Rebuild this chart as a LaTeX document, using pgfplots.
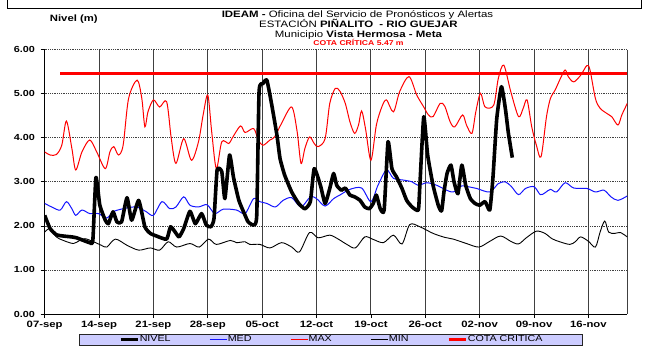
\documentclass[border=0pt]{standalone}
\usepackage{pgfplots}
\pgfplotsset{compat=1.18}
\usepackage{fontspec}
\setmainfont{Liberation Sans}[FakeStretch=1.23]
\definecolor{legfill}{RGB}{204,204,255}
\definecolor{medblue}{RGB}{20,20,255}
\begin{document}
\begin{tikzpicture}[x=1bp,y=1bp]
\useasboundingbox (0,0) rectangle (647,348);
\draw[black, line width=0.8bp] (7.5,348) -- (7.5,339.7) -- (641,339.7) -- (641,348);
\node[anchor=base, inner sep=0] at (357.5,330.4) {\fontsize{9.3bp}{11bp}\selectfont\textbf{IDEAM -} Oficina del Servicio de Pronósticos y Alertas};
\node[anchor=base, inner sep=0] at (358.4,320.6) {\fontsize{9.3bp}{11bp}\selectfont ESTACIÓN \textbf{PIÑALITO\hspace{3bp} - RIO GUEJAR}};
\node[anchor=base, inner sep=0] at (358.5,310.7) {\fontsize{9.3bp}{11bp}\selectfont Municipio \textbf{Vista Hermosa - Meta}};
\node[anchor=base, inner sep=0, red] at (358.5,302.6) {\fontsize{7bp}{8bp}\selectfont\bfseries COTA CRÍTICA 5.47 m};
\node[anchor=base, inner sep=0] at (73.8,327) {\fontsize{9.2bp}{11bp}\selectfont\bfseries Nivel (m)};
\begin{axis}[
  at={(44.67bp,34bp)}, anchor=south west, scale only axis,
  width=582.6bp, height=264.3bp,
  xmin=0, xmax=75, ymin=0, ymax=6,
  axis x line*=bottom, axis y line*=left,
  axis line style={black, line width=0.9bp, -},
  xtick={0,7,...,70},
  xticklabels={07-sep,14-sep,21-sep,28-sep,05-oct,12-oct,19-oct,26-oct,02-nov,09-nov,16-nov},
  ytick={0,1,...,6},
  /pgf/number format/assume math mode=true,
  y tick label style={/pgf/number format/fixed, /pgf/number format/fixed zerofill, /pgf/number format/precision=2},
  tick align=outside, major tick length=4bp,
  tick style={black, line width=0.8bp},
  xticklabel style={font=\bfseries\fontsize{9.2bp}{10bp}\selectfont, inner sep=1bp, yshift=-2bp},
  yticklabel style={font=\bfseries\fontsize{8.8bp}{10bp}\selectfont, inner sep=1bp, xshift=-4.5bp},
  xmajorgrids, ymajorgrids,
  x grid style={black!75, line width=1bp},
  y grid style={black!75, dash pattern=on 1bp off 0.8bp, line width=0.8bp},
  extra x ticks={75}, extra x tick labels={},
  extra x tick style={grid style={black!50, line width=1bp, solid}, major tick length=0pt},
  legend style={at={(0.4915,-0.0965)}, anchor=center, draw=black!85, fill=legfill,
    line width=0.8bp, font=\fontsize{8.7bp}{9bp}\selectfont,
    inner xsep=39.5bp, inner ysep=1.2bp,
    nodes={inner sep=0.6bp},
    /tikz/every even column/.append style={column sep=38bp}},
  legend columns=5,
  legend image code/.code={\draw[#1] (0bp,0bp) -- (17bp,0bp);},
]
\addplot[red, line width=1bp, smooth, tension=0.5, forget plot] coordinates {
(0,3.68)(0.7,3.61)(1.5,3.62)(2.2,3.83)(2.8,4.38)(3.5,3.76)(4.0,3.27)(4.8,3.68)(5.8,3.95)(6.7,3.68)(7.8,3.30)(8.4,3.68)(8.9,3.80)(9.5,3.61)(10.1,3.83)(10.8,4.89)(11.9,5.31)(12.5,4.9)(12.9,4.25)(13.3,4.59)(14.0,4.86)(14.8,4.70)(15.7,4.82)(16.3,3.98)(16.9,3.42)(17.9,3.98)(18.9,3.49)(19.8,3.91)(20.4,4.52)(21.0,4.97)(21.5,4.14)(22.1,3.30)(22.8,3.91)(23.7,3.87)(24.1,3.98)(25.2,4.27)(25.8,4.12)(26.9,4.21)(27.5,3.95)(28.1,3.83)(29.0,3.95)(29.6,4.02)(30.5,4.33)(31.8,4.70)(32.5,4.14)(33.0,3.42)(33.5,3.76)(34.1,4.02)(34.7,3.87)(35.2,3.80)(36.1,3.98)(36.7,4.78)(37.4,5.12)(38.0,5.06)(38.7,4.78)(39.3,4.36)(39.9,4.10)(40.4,4.29)(40.8,4.61)(41.3,4.21)(42.0,3.49)(42.7,4.29)(43.4,4.70)(44.0,4.86)(44.9,4.59)(45.7,5.05)(46.9,5.39)(47.9,4.97)(48.8,4.70)(49.4,4.52)(50.0,4.48)(50.9,4.78)(51.5,4.72)(52.2,4.36)(52.8,4.25)(53.8,4.52)(54.3,4.29)(55.0,4.10)(55.5,4.59)(56.1,5.01)(56.7,4.70)(57.8,4.74)(58.4,5.35)(59.1,5.65)(60.0,5.05)(61.0,4.48)(61.6,4.67)(62.1,4.86)(62.7,4.25)(63.3,3.83)(63.9,3.57)(64.6,4.48)(65.1,4.89)(65.7,5.08)(66.4,5.35)(67.0,5.54)(67.4,5.39)(68.1,5.27)(69.0,5.42)(69.8,5.64)(70.2,5.54)(70.9,4.89)(71.5,4.67)(72.4,4.55)(73.0,4.48)(73.8,4.29)(74.3,4.52)(75.0,4.78)
};
\addplot[medblue, line width=1bp, smooth, tension=0.5, forget plot] coordinates {
(0,2.51)(0.9,2.43)(2.0,2.36)(2.8,2.55)(3.5,2.39)(4.0,2.24)(4.8,2.36)(5.8,2.28)(6.9,2.28)(8.0,2.18)(8.8,2.32)(10.1,2.39)(11.8,2.43)(13.1,2.32)(14.0,2.24)(15.1,2.55)(16.1,2.39)(16.9,2.43)(17.9,2.66)(18.7,2.47)(19.8,2.43)(20.9,2.48)(21.9,2.28)(23.0,2.38)(24.7,2.36)(25.8,2.28)(26.9,2.62)(27.7,2.55)(28.6,2.51)(29.7,2.43)(30.7,2.58)(31.8,2.64)(33.0,2.43)(34.2,2.66)(35.0,2.62)(36.1,2.45)(37.2,2.62)(38.0,2.70)(39.3,2.83)(40.8,2.86)(42.0,2.55)(42.9,2.92)(44.0,3.27)(44.9,3.08)(46.2,3.04)(47.3,3.00)(48.1,2.92)(49.2,2.98)(50.5,2.92)(51.5,2.83)(52.6,2.77)(53.7,2.91)(54.5,2.89)(55.6,2.85)(57.3,2.77)(58.4,2.96)(59.3,3.00)(60.1,2.89)(61.0,2.71)(61.9,2.85)(63.0,2.89)(63.8,2.71)(64.4,2.75)(65.1,2.83)(65.9,2.77)(67.0,2.98)(68.1,2.86)(69.8,2.85)(70.9,2.77)(72.0,2.81)(72.9,2.66)(73.8,2.58)(75.0,2.68)
};
\addplot[black, line width=0.9bp, smooth, tension=0.5, forget plot] coordinates {
(0,1.86)(0.7,1.94)(1.5,1.75)(2.4,1.67)(3.7,1.60)(4.5,1.67)(5.2,1.71)(6.3,1.64)(7.3,1.56)(8.0,1.52)(9.1,1.70)(10.6,1.56)(12.1,1.45)(13.6,1.50)(14.8,1.45)(15.9,1.64)(17.0,1.52)(18.7,1.60)(19.9,1.52)(21.1,1.70)(22.1,1.58)(23.9,1.67)(24.7,1.62)(25.8,1.64)(26.4,1.58)(27.7,1.58)(29.0,1.50)(30.5,1.62)(31.8,1.52)(32.8,1.41)(34.1,1.85)(35.2,1.73)(36.7,1.79)(37.8,1.70)(38.9,1.58)(40.0,1.50)(41.2,1.75)(42.2,1.70)(43.6,1.62)(44.9,1.79)(46.0,1.59)(47.0,2.03)(48.3,1.98)(50.0,1.83)(51.5,1.74)(52.6,1.70)(54.3,1.60)(55.9,1.52)(57.3,1.65)(58.7,1.77)(60.0,1.65)(61.0,1.59)(62.0,1.73)(63.3,1.88)(64.4,1.83)(65.3,1.71)(66.3,1.64)(67.6,1.58)(68.3,1.64)(69.0,1.75)(70.0,1.65)(70.9,1.52)(71.5,1.86)(72.1,2.11)(72.6,1.86)(73.4,1.83)(74.1,1.85)(75.0,1.75)
};
\addplot[red, line width=3bp, forget plot] coordinates {(2,5.47)(75,5.47)};
\addplot[black, line width=3.6bp, smooth, tension=0.3, line join=round, forget plot] coordinates {
(0,2.24)(0.7,1.94)(1.5,1.80)(2.4,1.77)(3.5,1.75)(4.1,1.73)(5,1.67)(5.8,1.62)(6.2,1.67)(6.6,3.10)(7.1,2.47)(7.8,2.13)(8.2,2.05)(8.8,2.32)(9.3,2.09)(9.9,2.09)(10.6,2.64)(11.2,2.13)(12.1,2.58)(12.9,1.98)(13.6,1.83)(14.4,1.77)(15.7,1.70)(16.2,1.98)(16.8,1.86)(17.3,1.75)(17.9,1.94)(18.7,2.33)(19.4,2.05)(20.2,2.28)(20.8,2.02)(21.4,1.98)(21.8,2.17)(22.2,3.27)(22.8,3.23)(23.2,2.62)(23.8,3.61)(24.3,3.11)(25.0,2.58)(25.8,2.24)(26.2,2.09)(26.9,2.02)(27.3,2.24)(27.6,5.05)(28.1,5.23)(28.6,5.31)(29.2,4.78)(29.9,4.06)(30.3,3.53)(30.9,3.15)(31.8,2.77)(32.7,2.51)(33.5,2.39)(34.2,2.55)(34.7,3.30)(35.5,2.92)(36.1,2.51)(36.7,2.85)(37.2,3.19)(37.6,2.92)(38.2,2.81)(38.7,2.86)(39.3,2.70)(39.9,2.66)(40.6,2.58)(41.2,2.43)(41.8,2.39)(42.3,2.51)(42.7,2.70)(43.2,2.39)(43.7,2.36)(44.2,3.91)(44.7,3.30)(45.3,3.11)(46.0,2.85)(46.6,2.58)(47.3,2.43)(48.1,2.36)(48.3,2.92)(48.8,4.48)(49.3,3.61)(50.0,2.92)(50.7,2.45)(51.1,2.34)(51.4,2.77)(51.8,3.19)(52.3,3.38)(52.7,3.00)(53.2,2.73)(53.7,3.38)(54.2,2.92)(54.8,2.62)(55.4,2.51)(56.0,2.47)(56.7,2.55)(57.3,2.36)(57.7,3.08)(58.2,4.44)(58.8,5.16)(59.3,4.67)(59.7,4.10)(60.2,3.55)
};
\addlegendimage{black, line width=3.2bp}\addlegendentry{NIVEL}
\addlegendimage{medblue, line width=0.9bp}\addlegendentry{MED}
\addlegendimage{red, line width=0.9bp}\addlegendentry{MAX}
\addlegendimage{black, line width=0.9bp}\addlegendentry{MIN}
\addlegendimage{red, line width=3bp}\addlegendentry{COTA CRITICA}
\end{axis}
\end{tikzpicture}
\end{document}
